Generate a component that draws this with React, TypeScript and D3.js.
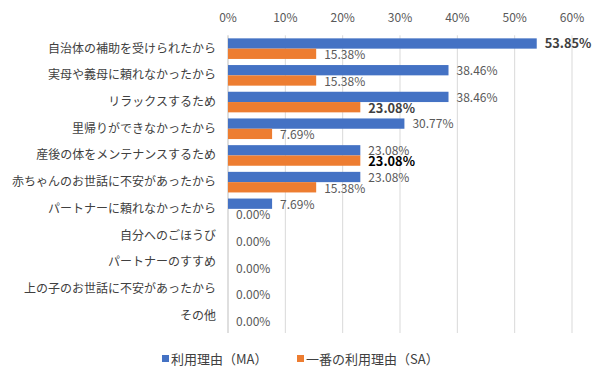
import React from "react";
import * as d3 from "d3";

const categories = [
  "自治体の補助を受けられたから",
  "実母や義母に頼れなかったから",
  "リラックスするため",
  "里帰りができなかったから",
  "産後の体をメンテナンスするため",
  "赤ちゃんのお世話に不安があったから",
  "パートナーに頼れなかったから",
  "自分へのごほうび",
  "パートナーのすすめ",
  "上の子のお世話に不安があったから",
  "その他",
];
const maValues = [53.85, 38.46, 38.46, 30.77, 23.08, 23.08, 7.69, 0, 0, 0, 0];
const saValues = [15.38, 15.38, 23.08, 7.69, 23.08, 15.38, 0, 0, 0, 0, 0];
const xTicks = [0, 10, 20, 30, 40, 50, 60];
const seriesNames = ["利用理由（MA）", "一番の利用理由（SA）"];
const colors = ["#4472C4", "#ED7D31"];
// emphasized labels: [series, index, color]
const emphasized: [number, number, string][] = [
  [0, 0, "#404040"],
  [1, 2, "#404040"],
  [1, 4, "#000000"],
];

const FONT = "'Noto Sans CJK JP', 'Noto Sans', sans-serif";

export default function App() {
  const W = 600, H = 382;
  const left = 228, right = 572, top = 35.3, bottom = 329;
  const x = d3.scaleLinear().domain([0, 60]).range([left, right]);
  const y = d3.scaleBand<number>().domain(d3.range(categories.length)).range([top, bottom]).paddingInner(0).paddingOuter(0);
  const step = y.bandwidth();
  const barH = 10.3;
  const groupPad = (step - 2 * barH) / 2;

  const emph = (s: number, i: number) => emphasized.find((e) => e[0] === s && e[1] === i);

  return (
    <svg width={W} height={H} style={{ position: "absolute", left: 0, top: 0, background: "#fff" }} fontFamily={FONT}>
      {xTicks.map((t) => (
        <g key={t}>
          <line x1={x(t)} x2={x(t)} y1={top} y2={bottom + 4} stroke={t === 0 ? "#bfbfbf" : "#d9d9d9"} strokeWidth={1} />
          <text x={x(t)} y={22} textAnchor="middle" fontSize={12} fill="#595959">{t}%</text>
        </g>
      ))}
      {categories.map((c, i) => (
        <text key={c} x={216} y={(y(i) as number) + step / 2 + 4} textAnchor="end" fontSize={12} fill="#404040">{c}</text>
      ))}
      {[maValues, saValues].map((vals, s) =>
        vals.map((v, i) => {
          const by = (y(i) as number) + groupPad + s * barH;
          return (
            <rect key={`${s}-${i}`} x={x(0)} y={by} width={x(v) - x(0)} height={barH} fill={colors[s]} />
          );
        })
      )}
      {[maValues, saValues].map((vals, s) =>
        vals.map((v, i) => {
          if (s === 0 && v === 0) return null;
          const by = (y(i) as number) + groupPad + s * barH;
          const e = emph(s, i);
          return (
            <text
              key={`l${s}-${i}`}
              x={x(v) + 8}
              y={by + barH / 2 + (s === 0 ? 4.8 : 5.3)}
              fontSize={e ? 12.8 : 12}
              fontWeight={e ? "bold" : "normal"}
              fill={e ? e[2] : "#595959"}
            >
              {v.toFixed(2)}%
            </text>
          );
        })
      )}
      <g>
        <rect x={162} y={355} width={7} height={7} fill={colors[0]} />
        <text x={171} y={364} fontSize={13} fill="#404040">{seriesNames[0]}</text>
        <rect x={297} y={355} width={7} height={7} fill={colors[1]} />
        <text x={306} y={364} fontSize={13} fill="#404040">{seriesNames[1]}</text>
      </g>
    </svg>
  );
}
